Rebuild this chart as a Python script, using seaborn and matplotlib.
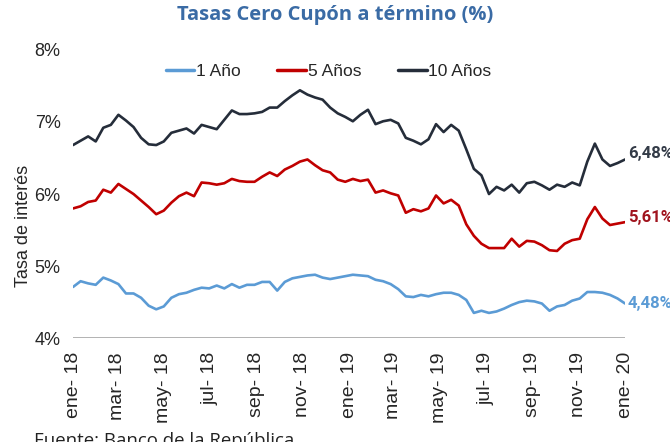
import numpy as np
import pandas as pd
import matplotlib
matplotlib.use("Agg")
import matplotlib.pyplot as plt
import seaborn as sns

# ==========================================
# DATA (every 10 days)
# ==========================================

dates = pd.date_range("2018-01-01", periods=74, freq="10D")

tasa_1 = [4.71, 4.79, 4.76, 4.74, 4.84, 4.80, 4.75, 4.62, 4.62, 4.56,
          4.45, 4.40, 4.44, 4.56, 4.61, 4.63, 4.67, 4.70, 4.69, 4.73,
          4.69, 4.75, 4.70, 4.74, 4.74, 4.78, 4.78, 4.66, 4.78, 4.83,
          4.85, 4.87, 4.88, 4.84, 4.82, 4.84, 4.86, 4.88, 4.87, 4.86,
          4.81, 4.79, 4.75, 4.68, 4.58, 4.57, 4.60, 4.58, 4.61, 4.63,
          4.63, 4.60, 4.53, 4.35, 4.38, 4.35, 4.37, 4.41, 4.46, 4.50,
          4.52, 4.51, 4.48, 4.38, 4.44, 4.46, 4.52, 4.55, 4.64, 4.64,
          4.63, 4.60, 4.55, 4.48]

tasa_5 = [5.80, 5.83, 5.89, 5.91, 6.06, 6.02, 6.14, 6.07, 6.00, 5.91,
          5.82, 5.72, 5.77, 5.88, 5.97, 6.02, 5.97, 6.16, 6.15, 6.13,
          6.15, 6.21, 6.18, 6.17, 6.17, 6.24, 6.30, 6.25, 6.34, 6.39,
          6.45, 6.48, 6.40, 6.33, 6.30, 6.20, 6.17, 6.21, 6.18, 6.20,
          6.02, 6.05, 6.01, 5.98, 5.74, 5.79, 5.76, 5.80, 5.98, 5.87,
          5.92, 5.84, 5.58, 5.42, 5.31, 5.25, 5.25, 5.25, 5.38, 5.27,
          5.35, 5.34, 5.29, 5.22, 5.21, 5.31, 5.36, 5.38, 5.65, 5.82,
          5.66, 5.57, 5.59, 5.61]

tasa_10 = [6.68, 6.74, 6.80, 6.73, 6.92, 6.96, 7.10, 7.02, 6.93, 6.78,
           6.69, 6.68, 6.73, 6.85, 6.88, 6.91, 6.84, 6.96, 6.93, 6.90,
           7.03, 7.16, 7.11, 7.11, 7.12, 7.14, 7.20, 7.20, 7.29, 7.37,
           7.44, 7.38, 7.34, 7.31, 7.20, 7.12, 7.07, 7.01, 7.10, 7.17,
           6.97, 7.01, 7.03, 6.98, 6.78, 6.74, 6.69, 6.76, 6.97, 6.86,
           6.96, 6.88, 6.62, 6.35, 6.26, 6.00, 6.10, 6.05, 6.13, 6.02,
           6.15, 6.17, 6.12, 6.06, 6.13, 6.10, 6.16, 6.12, 6.45, 6.70,
           6.48, 6.39, 6.43, 6.48]

series_names = ["1 Año", "5 Años", "10 Años"]
colors = {"1 Año": "#5B9BD5", "5 Años": "#C00000", "10 Años": "#252D3A"}
label_colors = {"1 Año": "#5B9BD5", "5 Años": "#A0141E", "10 Años": "#333B47"}
end_labels = {"1 Año": "4,48%", "5 Años": "5,61%", "10 Años": "6,48%"}

meses = ["ene", "feb", "mar", "abr", "may", "jun",
         "jul", "ago", "sep", "oct", "nov", "dic"]

df = pd.DataFrame({
    "fecha": list(dates) * 3,
    "tasa": tasa_1 + tasa_5 + tasa_10,
    "serie": [s for s in series_names for _ in range(len(dates))],
})

# ==========================================
# PLOT
# ==========================================

sns.set_style("white")
plt.rcParams["font.family"] = ["Liberation Sans", "DejaVu Sans"]

fig = plt.figure(figsize=(6.7, 4.42), dpi=100)
ax = fig.add_axes([0.109, 0.235, 0.824, 0.652])

sns.lineplot(data=df, x="fecha", y="tasa", hue="serie", hue_order=series_names,
             palette=colors, linewidth=1.9, ax=ax)

ax.set_ylim(4, 8)
ax.set_xlim(dates[0], dates[-1])
ax.set_yticks([4, 5, 6, 7, 8])
ax.set_yticklabels([f"{v}%" for v in [4, 5, 6, 7, 8]], fontsize=13)

ticks = pd.date_range("2018-01-01", "2020-01-01", freq="2MS")
ax.set_xticks(ticks)
ax.set_xticklabels([f"{meses[t.month - 1]}- {t.strftime('%y')}" for t in ticks],
                   rotation=90, fontsize=14)
ax.tick_params(axis="both", length=0)
ax.tick_params(axis="x", pad=10)
ax.tick_params(axis="y", pad=9)

for side in ["top", "right", "left", "bottom"]:
    ax.spines[side].set_visible(False)
ax.axhline(4, color="#A6A6A6", linewidth=1.2, zorder=0)

ax.set_xlabel("")
ax.set_ylabel("Tasa de interés", fontsize=13)
ax.yaxis.set_label_coords(-0.074, 0.39)

# end of line labels
last_vals = {"1 Año": tasa_1[-1], "5 Años": tasa_5[-1], "10 Años": tasa_10[-1]}
label_dy = {"1 Año": 0, "5 Años": 3, "10 Años": 4}
for s in series_names:
    ax.annotate(end_labels[s], xy=(dates[-1], last_vals[s]), xytext=(2, label_dy[s]),
                textcoords="offset points", va="center", ha="left",
                fontsize=12, fontweight="bold", color=label_colors[s],
                family=["Roboto", "DejaVu Sans"], annotation_clip=False)

leg = ax.legend(loc="center", bbox_to_anchor=(0.463, 0.924), ncol=3, frameon=False,
                fontsize=12.5, handlelength=1.66, handletextpad=0.1, columnspacing=2.1)
for line in leg.get_lines():
    line.set_linewidth(2.5)

fig.text(0.5, 0.966, "Tasas Cero Cupón a término (%)", ha="center", va="center",
         fontsize=14.5, fontweight="bold", color="#3A6BA5",
         family=["Open Sans", "DejaVu Sans"])

fig.text(0.05, 0.0226, "Fuente: Banco de la República", ha="left", va="top",
         fontsize=13.4, color="#222222", family=["Open Sans", "DejaVu Sans"])

plt.savefig("out.png", dpi=100)
